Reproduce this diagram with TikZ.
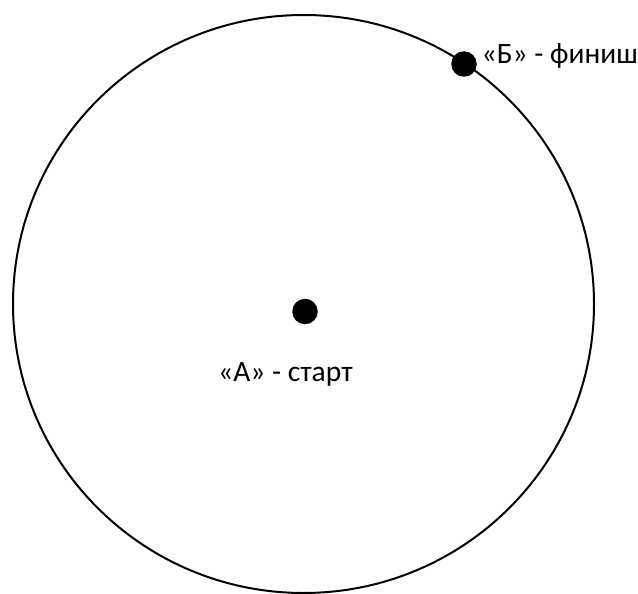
\documentclass[tikz,border=0pt]{standalone}
\usepackage{fontspec}
\setmainfont{Carlito}
\begin{document}
\begin{tikzpicture}[x=1pt,y=-1pt,
  ring/.style={draw=black,line width=2pt},
  dot/.style={circle,fill=black,inner sep=0pt,minimum size=25.5pt},
  lbl/.style={inner sep=0pt,font=\fontsize{29.5pt}{34pt}\selectfont}]
\useasboundingbox (0,0) rectangle (638,594);
\coordinate (O) at (303.5,304);
\draw[ring] (O) ellipse [x radius=290.5, y radius=289];
\node[dot] (A) at (305,311.5) {};
\node[dot] (B) at (464,64) {};
\node[lbl,anchor=base west] (la) at (218,381.5) {«А» - старт};
\node[lbl,anchor=base west] (lb) at (481.5,63.5) {«Б» - финиш};
\end{tikzpicture}
\end{document}
